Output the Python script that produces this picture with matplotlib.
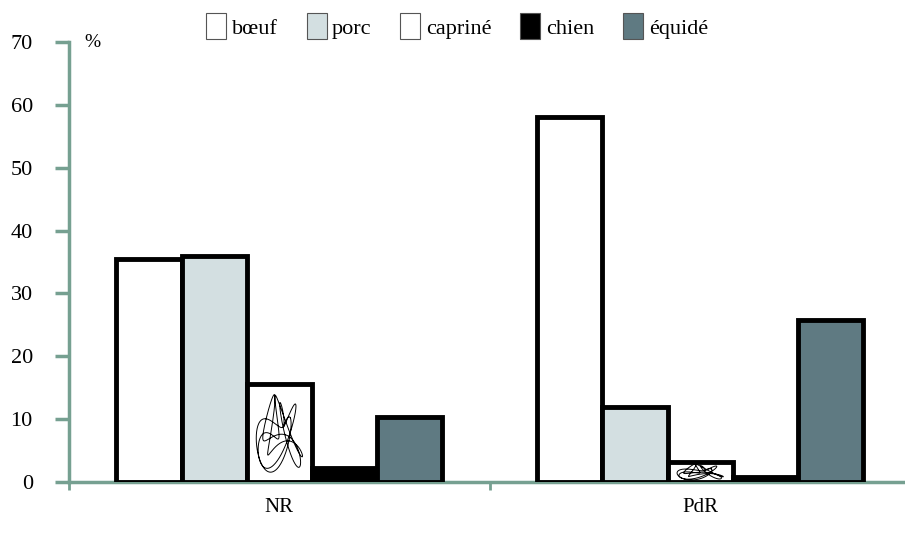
import numpy as np
import matplotlib.pyplot as plt
from matplotlib.patches import Patch

plt.rcParams['font.family'] = ['Liberation Serif', 'DejaVu Serif']

categories = ['NR', 'PdR']
species = ['bœuf', 'porc', 'capriné', 'chien', 'équidé']
values = {
    'bœuf': [35.5, 58.0],
    'porc': [36.0, 11.9],
    'capriné': [15.6, 3.2],
    'chien': [2.2, 0.8],
    'équidé': [10.3, 25.7],
}
colors = ['#ffffff', '#d3dfe1', '#ffffff', '#000000', '#5f7a82']
axis_color = '#76a091'

fig = plt.figure(figsize=(9.05, 5.42), dpi=100)
ax = fig.add_axes([0.0762, 0.1107, 0.930, 0.8118])

width = 0.155
x = np.arange(len(categories))
bars = {}
for i, sp in enumerate(species):
    pos = x + (i - 2) * width
    bars[sp] = ax.bar(pos, values[sp], width, color=colors[i], edgecolor='black',
                      linewidth=3.5, zorder=3)

# squiggle decoration inside the capriné bars
t = np.linspace(0, 2 * np.pi, 1000)
for rect in bars['capriné']:
    x0, w = rect.get_x(), rect.get_width()
    h = rect.get_height()
    cx = x0 + w / 2
    cy = h / 2
    sx = cx + w * 0.36 * (0.6 * np.sin(3 * t + 0.5) + 0.4 * np.cos(7 * t + 1.1))
    sy = cy + h * 0.40 * (0.6 * np.sin(4 * t) + 0.4 * np.cos(9 * t + 0.3))
    line, = ax.plot(sx, sy, color='black', lw=0.7, zorder=4)
    line.set_clip_path(rect)

ax.set_xlim(-0.5, 1.5)
ax.set_ylim(0, 70)
ax.set_yticks(range(0, 71, 10))
ax.set_xticks([-0.5, 0.5, 1.5])
ax.set_xticklabels([])
for lab, xc in zip(categories, x):
    ax.text(xc, -2.6, lab, ha='center', va='top', fontsize=15)

for s in ['top', 'right']:
    ax.spines[s].set_visible(False)
for s in ['left', 'bottom']:
    ax.spines[s].set_color(axis_color)
    ax.spines[s].set_linewidth(2.5)
ax.tick_params(axis='y', colors=axis_color, width=2.5, length=10, labelsize=16,
               labelcolor='black', pad=16)
ax.tick_params(axis='x', colors=axis_color, width=2, length=6)

ax.text(0.018, 1.0, '%', transform=ax.transAxes, fontsize=14, va='center')

handles = [Patch(facecolor=c, edgecolor='#555555', linewidth=0.8,
                 hatch=('@@' if sp == 'capriné' else None))
           for sp, c in zip(species, colors)]
fig.legend(handles, species, loc='upper center', bbox_to_anchor=(0.505, 1.012), ncol=5,
           frameon=False, fontsize=16, handlelength=0.9, handleheight=1.4,
           handletextpad=0.25, columnspacing=1.3)

fig.savefig('out.png', dpi=100)
